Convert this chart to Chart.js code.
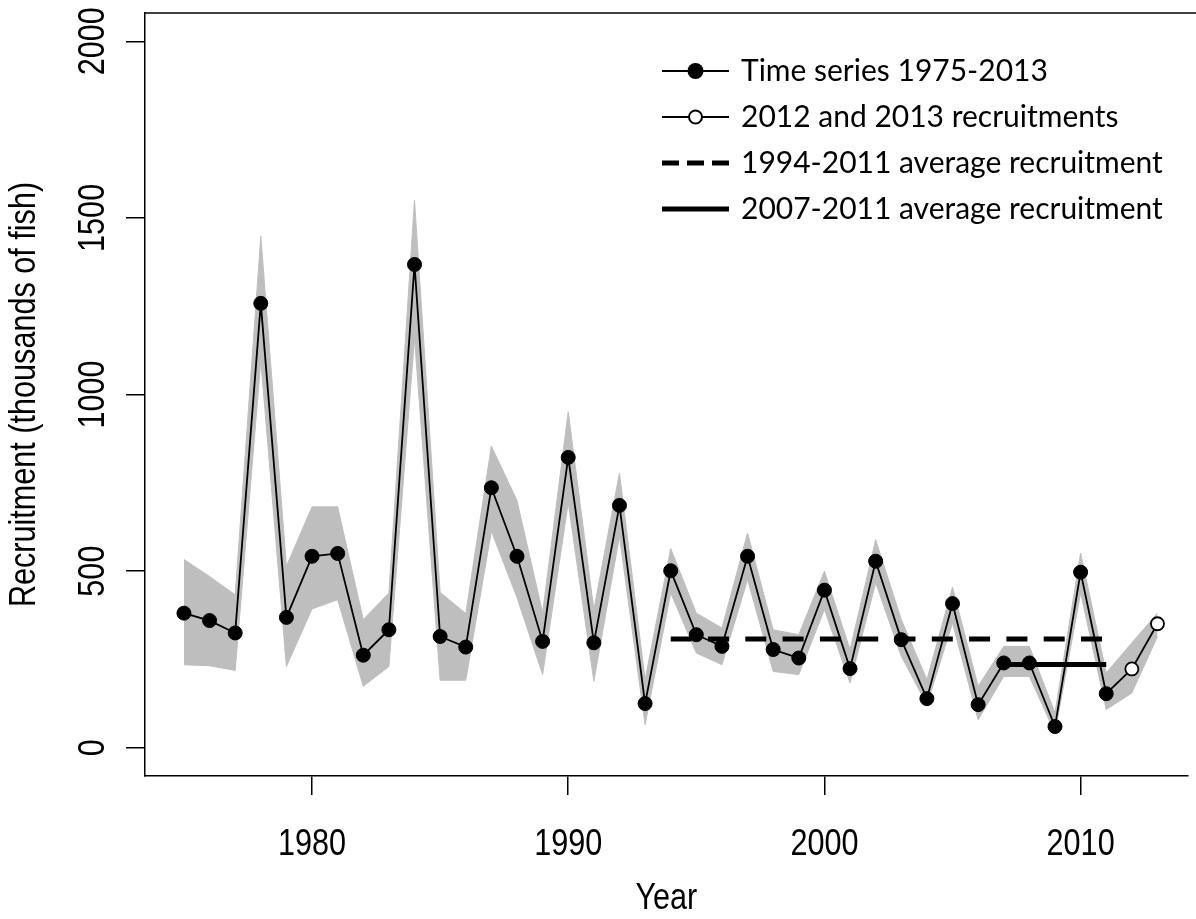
<!DOCTYPE html>
<html>
<head>
<meta charset="utf-8">
<script src="https://cdn.jsdelivr.net/npm/chart.js@4.4.1/dist/chart.umd.min.js"></script>
<style>
  html, body { margin: 0; padding: 0; background: #fff; overflow: hidden; }
  canvas { display: block; }
</style>
</head>
<body>
<canvas id="chart" width="1196" height="919"></canvas>
<script>
// recruitment time series (thousands of fish)
const seriesYears = [1975, 1976, 1977, 1978, 1979, 1980, 1981, 1982, 1983, 1984,
                     1985, 1986, 1987, 1988, 1989, 1990, 1991, 1992, 1993, 1994,
                     1995, 1996, 1997, 1998, 1999, 2000, 2001, 2002, 2003, 2004,
                     2005, 2006, 2007, 2008, 2009, 2010, 2011];
const recruitment = [381, 360, 325, 1258, 369, 542, 550, 262, 334, 1368,
                     315, 285, 736, 542, 301, 822, 297, 686, 125, 501,
                     320, 287, 542, 278, 254, 446, 224, 528, 306, 139,
                     408, 122, 240, 240, 60, 497, 153];

const recentYears = [2012, 2013];
const recentRecruitment = [223, 351];

// grey confidence band
const bandYears = [1975, 1976, 1977, 1978, 1979, 1980, 1981, 1982, 1983, 1984,
                   1985, 1986, 1987, 1988, 1989, 1990, 1991, 1992, 1993, 1994,
                   1995, 1996, 1997, 1998, 1999, 2000, 2001, 2002, 2003, 2004,
                   2005, 2006, 2007, 2008, 2009, 2010, 2011, 2012, 2013];
const bandUpper = [533, 485, 433, 1448, 514, 682, 682, 363, 438, 1550,
                   440, 380, 854, 700, 382, 951, 391, 778, 193, 564,
                   381, 339, 608, 334, 320, 500, 278, 589, 363, 193,
                   455, 174, 287, 287, 99, 551, 212, 297, 381];
const bandLower = [235, 232, 219, 1095, 230, 393, 419, 174, 230, 1160,
                   191, 191, 613, 425, 207, 694, 188, 599, 65, 438,
                   268, 235, 476, 216, 207, 391, 183, 467, 259, 122,
                   353, 79, 202, 202, 42, 438, 108, 155, 315];

// average lines
const longAvgYears = [1994, 2011];
const longAvgValue = 308;
const shortAvgYears = [2007, 2011];
const shortAvgValue = 236;

const xTickValues = [1980, 1990, 2000, 2010];
const yTickValues = [0, 500, 1000, 1500, 2000];
const xTitle = 'Year';
const yTitle = 'Recruitment (thousands of fish)';

const legendLabels = ['Time series 1975-2013', '2012 and 2013 recruitments',
                      '1994-2011 average recruitment', '2007-2011 average recruitment'];

const axisFont = '36px "Liberation Sans", Arial, sans-serif';
const SQUEEZE = 0.85;   // the axis text in the original is a bit narrow
const legendFont = '30px Lato, "Open Sans", sans-serif';
const BAND = '#bebebe';

const pts = (xs, ys) => xs.map((x, i) => ({ x, y: ys[i] }));
const lastPoint = { x: seriesYears[seriesYears.length - 1], y: recruitment[recruitment.length - 1] };

// narrow text helper: draws at (x, y) rotated by rot, squeezed along the text direction
function narrowText(ctx, text, x, y, rot) {
  ctx.save();
  ctx.translate(x, y);
  ctx.rotate(rot);
  ctx.scale(SQUEEZE, 1);
  ctx.fillText(text, 0, 0);
  ctx.restore();
}

// top edge of the box + axis labels and titles
const axisTextPlugin = {
  id: 'axisText',
  afterDraw(chart) {
    const { ctx, chartArea: a, scales } = chart;
    ctx.save();
    ctx.strokeStyle = '#000';
    ctx.lineWidth = 1.5;
    ctx.beginPath();
    ctx.moveTo(a.left, a.top);
    ctx.lineTo(chart.width, a.top);
    ctx.stroke();

    ctx.fillStyle = '#000';
    ctx.font = axisFont;
    ctx.textAlign = 'center';
    ctx.textBaseline = 'alphabetic';
    scales.x.ticks.forEach(t => {
      narrowText(ctx, String(t.value), scales.x.getPixelForValue(t.value), a.bottom + 79, 0);
    });
    scales.y.ticks.forEach(t => {
      narrowText(ctx, String(t.value), a.left - 41, scales.y.getPixelForValue(t.value), -Math.PI / 2);
    });
    narrowText(ctx, xTitle, (a.left + a.right) / 2, a.bottom + 133, 0);
    narrowText(ctx, yTitle, 35, (a.top + a.bottom) / 2, -Math.PI / 2);
    ctx.restore();
  }
};

// legend in the top-right corner of the plot
const legendPlugin = {
  id: 'insetLegend',
  afterDraw(chart) {
    const { ctx, chartArea: a } = chart;
    const x0 = a.left + 517, x1 = a.left + 584, xm = (x0 + x1) / 2, tx = a.left + 596;
    const rows = [a.top + 58, a.top + 104, a.top + 150, a.top + 196];
    ctx.save();
    ctx.strokeStyle = '#000';
    ctx.fillStyle = '#000';

    ctx.lineWidth = 2;
    ctx.beginPath(); ctx.moveTo(x0, rows[0]); ctx.lineTo(x1, rows[0]); ctx.stroke();
    ctx.beginPath(); ctx.arc(xm, rows[0], 8, 0, Math.PI * 2); ctx.fill();

    ctx.beginPath(); ctx.moveTo(x0, rows[1]); ctx.lineTo(x1, rows[1]); ctx.stroke();
    ctx.beginPath(); ctx.arc(xm, rows[1], 6.5, 0, Math.PI * 2);
    ctx.fillStyle = '#fff'; ctx.fill(); ctx.stroke();
    ctx.fillStyle = '#000';

    ctx.lineWidth = 5;
    ctx.setLineDash([17, 8]);
    ctx.beginPath(); ctx.moveTo(x0, rows[2]); ctx.lineTo(x1, rows[2]); ctx.stroke();
    ctx.setLineDash([]);

    ctx.beginPath(); ctx.moveTo(x0, rows[3]); ctx.lineTo(x1, rows[3]); ctx.stroke();

    ctx.font = legendFont;
    ctx.textBaseline = 'middle';
    ctx.textAlign = 'left';
    legendLabels.forEach((t, i) => ctx.fillText(t, tx, rows[i]));
    ctx.restore();
  }
};

new Chart(document.getElementById('chart'), {
  type: 'line',
  data: {
    datasets: [
      {
        data: pts(seriesYears, recruitment),
        borderColor: '#000', borderWidth: 1.8,
        pointRadius: 7, pointBackgroundColor: '#000', pointBorderColor: '#000', pointBorderWidth: 1,
        fill: false, tension: 0
      },
      {
        data: [lastPoint, ...pts(recentYears, recentRecruitment)],
        borderColor: '#000', borderWidth: 1.8,
        pointRadius: c => c.dataIndex === 0 ? 0 : 6.5,
        pointBackgroundColor: '#fff', pointBorderColor: '#000', pointBorderWidth: 1.8,
        fill: false, tension: 0
      },
      {
        data: longAvgYears.map(x => ({ x, y: longAvgValue })),
        borderColor: '#000', borderWidth: 5, borderDash: [21, 16.3],
        pointRadius: 0, fill: false
      },
      {
        data: shortAvgYears.map(x => ({ x, y: shortAvgValue })),
        borderColor: '#000', borderWidth: 5,
        pointRadius: 0, fill: false
      },
      {
        data: pts(bandYears, bandUpper),
        borderColor: BAND, borderWidth: 1, backgroundColor: BAND,
        pointRadius: 0, fill: '+1', tension: 0
      },
      {
        data: pts(bandYears, bandLower),
        borderColor: BAND, borderWidth: 1,
        pointRadius: 0, fill: false, tension: 0
      }
    ]
  },
  options: {
    responsive: false,
    devicePixelRatio: 1,
    animation: false,
    events: [],
    layout: { padding: { top: 13, right: 1, left: 0, bottom: 0 } },
    plugins: { legend: { display: false }, tooltip: { enabled: false } },
    scales: {
      x: {
        type: 'linear', min: 1973.48, max: 2014.18,
        afterBuildTicks: s => { s.ticks = xTickValues.map(v => ({ value: v })); },
        ticks: { display: false },
        grid: { drawOnChartArea: false, tickLength: 19, color: '#000', lineWidth: 1.5 },
        border: { display: true, color: '#000', width: 1.5 },
        afterFit: s => { s.height = 143; s.paddingLeft = 0; s.paddingRight = 0; }
      },
      y: {
        type: 'linear', min: -80, max: 2080,
        afterBuildTicks: s => { s.ticks = yTickValues.map(v => ({ value: v })); },
        ticks: { display: false },
        grid: { drawOnChartArea: false, tickLength: 19, color: '#000', lineWidth: 1.5 },
        border: { display: true, color: '#000', width: 1.5 },
        afterFit: s => { s.width = 145; s.paddingTop = 0; s.paddingBottom = 0; }
      }
    }
  },
  plugins: [axisTextPlugin, legendPlugin]
});
</script>
</body>
</html>
